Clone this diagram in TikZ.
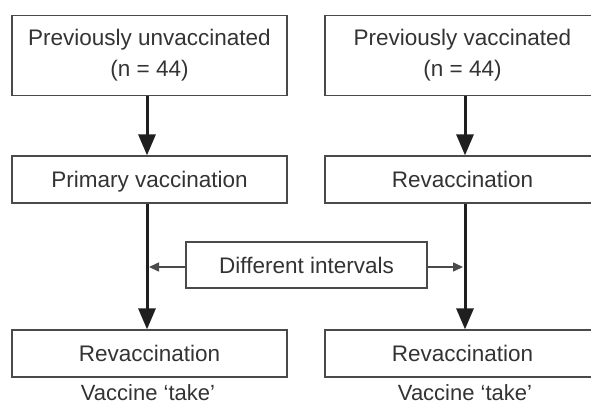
\documentclass[tikz,border=0pt]{standalone}
\usepackage{fontspec}
\setmainfont{Liberation Sans}
\usetikzlibrary{arrows.meta,calc}
\definecolor{txt}{HTML}{333333}
\definecolor{ln}{HTML}{4A4A4A}
\begin{document}
\begin{tikzpicture}[x=1pt,y=-1pt,
  box/.style={draw=ln,line width=1.3pt,minimum width=275pt,text=txt,font=\fontsize{22.5}{31}\selectfont,align=center,inner sep=0pt},
  onel/.style={text height=16pt,text depth=0pt},
  bigarrow/.style={draw=black!88,line width=3pt,-{Triangle[length=21pt,width=17pt]}},
  smallarrow/.style={draw=ln,line width=1.5pt,-{Triangle[length=10pt,width=9pt]}},
  lbl/.style={text=txt,font=\fontsize{22}{26}\selectfont,inner sep=0pt,text height=16pt,text depth=0pt}]
\useasboundingbox (0,0) rectangle (591,404);
\node[box,minimum height=80pt] (tl) at (149.5,55.5) {Previously unvaccinated\\(n = 44)};
\node[box,minimum height=80pt] (tr) at (462.5,55.5) {Previously vaccinated\\(n = 44)};
\node[box,onel,minimum height=47pt] (ml) at (149.5,179.5) {Primary vaccination};
\node[box,onel,minimum height=47pt] (mr) at (462.5,179.5) {Revaccination};
\node[box,onel,minimum height=46pt,minimum width=241pt] (di) at (306.5,265) {Different intervals};
\node[box,onel,minimum height=47pt] (bl) at (149.5,353.5) {Revaccination};
\node[box,onel,minimum height=47pt] (br) at (462.5,353.5) {Revaccination};
\node[lbl] (vl) at (148,392) {Vaccine ‘take’};
\node[lbl] (vr) at (465,392) {Vaccine ‘take’};
\draw[bigarrow] ([xshift=-2.5pt]tl.south) -- ([xshift=-2.5pt]ml.north);
\draw[bigarrow] ([xshift=2.5pt]tr.south) -- ([xshift=2.5pt]mr.north);
\draw[bigarrow] ([xshift=-2.5pt]ml.south) -- ([xshift=-2.5pt]bl.north);
\draw[bigarrow] ([xshift=2.5pt]mr.south) -- ([xshift=2.5pt]br.north);
\coordinate (hl) at (149,267);
\coordinate (hr) at (463,267);
\draw[smallarrow] (di.west |- hl) -- (hl);
\draw[smallarrow] (di.east |- hr) -- (hr);
\end{tikzpicture}
\end{document}
